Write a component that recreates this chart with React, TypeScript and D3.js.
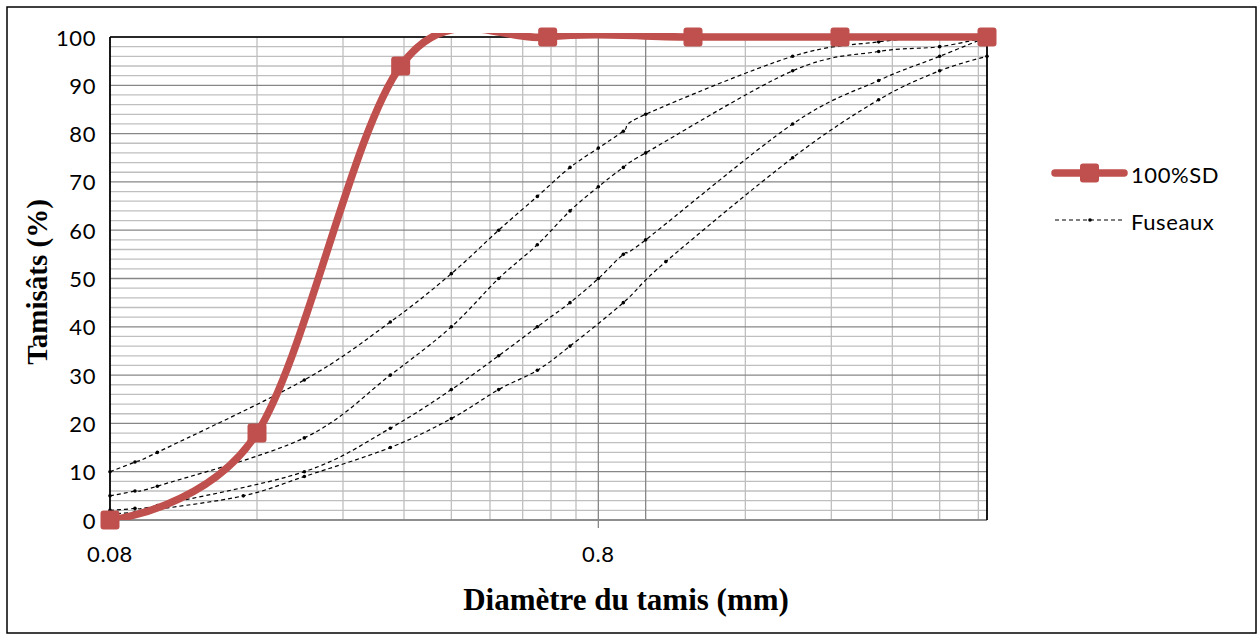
import { useMemo } from "react";
import * as d3 from "d3";

// sieve openings (mm) and passing percentages
const sdSieves = [0.08, 0.16, 0.315, 0.63, 1.25, 2.5, 5];
const sd100 = [0, 18, 94, 100, 100, 100, 100];

const fuseauSieves = [0.08, 0.09, 0.1, 0.2, 0.3, 0.4, 0.5, 0.6, 0.7, 0.8, 0.9, 1, 2, 3, 4, 5];
const fuseauA = [10, 12, 14, 29, 41, 51, 60, 67, 73, 77, 80.5, 84, 96, 99, 100, 100];
const fuseauB = [5, 6, 7, 17, 30, 40, 50, 57, 64, 69, 73, 76, 93, 97, 98, 100];
const fuseauC = [2, 2.4, 3, 10, 19, 27, 34, 40, 45, 50, 55, 58, 82, 91, 96, 100];
const fuseauDSieves = [0.08, 0.09, 0.1, 0.15, 0.2, 0.3, 0.4, 0.5, 0.6, 0.7, 0.9, 1.1, 2, 3, 4, 5];
const fuseauD = [1.2, 1.6, 2.2, 5, 9, 15, 21, 27, 31, 36, 45, 53.5, 75, 87, 93, 96];

const xLabelTicks = [0.08, 0.8];
const yTicks = [0, 10, 20, 30, 40, 50, 60, 70, 80, 90, 100];

const RED = "#C0504D";

export default function App() {
  const width = 1258;
  const height = 635;
  const plot = { left: 110, right: 987, top: 37, bottom: 520 };

  const x = d3.scaleLog().domain([0.08, 5]).range([plot.left, plot.right]);
  const y = d3.scaleLinear().domain([0, 100]).range([plot.bottom, plot.top]);

  const line = d3
    .line<[number, number]>()
    .x((d) => x(d[0]))
    .y((d) => y(d[1]))
    .curve(d3.curveCatmullRom.alpha(0));

  const fuseaux = useMemo(
    () => [
      { sieves: fuseauSieves, values: fuseauA },
      { sieves: fuseauSieves, values: fuseauB },
      { sieves: fuseauSieves, values: fuseauC },
      { sieves: fuseauDSieves, values: fuseauD },
    ],
    []
  );

  const minorX = [
    ...d3.range(2, 10).map((k) => 0.08 * k),
    ...d3.range(2, 7).map((k) => 0.8 * k),
  ].filter((v) => v < 5);
  const majorX = [0.8, 1];
  const minorY = d3.range(0, 101, 2).filter((v) => v % 10 !== 0);

  const sdPts: [number, number][] = sdSieves.map((s, i) => [s, sd100[i]]);
  const labelFont = "Lato, 'Open Sans', sans-serif";

  return (
    <svg
      width={width}
      height={height}
      style={{ position: "absolute", left: 0, top: 0, background: "#fff" }}
    >
      <defs>
        <clipPath id="plotClip">
          <rect
            x={plot.left}
            y={plot.top - 4}
            width={plot.right - plot.left}
            height={plot.bottom - plot.top + 4}
          />
        </clipPath>
      </defs>
      <rect x={7} y={7} width={1249} height={626} fill="#fff" stroke="#000" strokeWidth={1.5} />

      {/* grid */}
      {minorY.map((v) => (
        <line key={"hy" + v} x1={plot.left} x2={plot.right} y1={y(v)} y2={y(v)} stroke="#BFBFBF" strokeWidth={1.3} />
      ))}
      {minorX.map((v) => (
        <line key={"vx" + v} x1={x(v)} x2={x(v)} y1={plot.top} y2={plot.bottom} stroke="#BFBFBF" strokeWidth={1.3} />
      ))}
      {yTicks.map((v) => (
        <line key={"my" + v} x1={plot.left} x2={plot.right} y1={y(v)} y2={y(v)} stroke="#878787" strokeWidth={1.3} />
      ))}
      {majorX.map((v) => (
        <line key={"mx" + v} x1={x(v)} x2={x(v)} y1={plot.top} y2={plot.bottom} stroke="#878787" strokeWidth={1.3} />
      ))}

      {/* axes */}
      <line x1={plot.left} x2={plot.right} y1={plot.bottom} y2={plot.bottom} stroke="#878787" strokeWidth={1.5} />
      {xLabelTicks.map((v) => (
        <line key={"t" + v} x1={x(v)} x2={x(v)} y1={plot.bottom} y2={plot.bottom + 8} stroke="#878787" strokeWidth={1.3} />
      ))}
      <line x1={plot.left} x2={plot.right} y1={plot.top} y2={plot.top} stroke="#000" strokeWidth={1.5} />
      <line x1={plot.left} x2={plot.left} y1={plot.top} y2={plot.bottom} stroke="#000" strokeWidth={1.8} />
      <line x1={plot.right} x2={plot.right} y1={plot.top} y2={plot.bottom} stroke="#000" strokeWidth={1.8} />

      <g fontFamily={labelFont} fontSize={22} letterSpacing={0.6} fill="#000">
        {yTicks.map((v) => (
          <text key={"yl" + v} x={96} y={y(v)} textAnchor="end" dominantBaseline="central">
            {v}
          </text>
        ))}
        {xLabelTicks.map((v) => (
          <text key={"xl" + v} x={x(v)} y={562} textAnchor="middle">
            {v}
          </text>
        ))}
      </g>

      {/* fuseaux */}
      <g>
        {fuseaux.map((f, i) => {
          const pts: [number, number][] = f.sieves.map((s, j) => [s, f.values[j]]);
          return (
            <g key={"f" + i}>
              <path d={line(pts) ?? ""} fill="none" stroke="#000" strokeWidth={1.2} strokeDasharray="4 3" />
              {pts.map((p, j) => (
                <circle key={j} cx={x(p[0])} cy={y(p[1])} r={1.8} fill="#000" />
              ))}
            </g>
          );
        })}
      </g>

      {/* 100%SD */}
      <path
        d={line(sdPts) ?? ""}
        fill="none"
        stroke={RED}
        strokeWidth={7.5}
        strokeLinejoin="round"
        clipPath="url(#plotClip)"
      />
      {sdPts.map((p, i) => (
        <rect
          key={"m" + i}
          x={x(p[0]) - 9.5}
          y={y(p[1]) - 9.5}
          width={19}
          height={19}
          rx={3}
          fill={RED}
        />
      ))}

      {/* legend */}
      <line x1={1055} x2={1124} y1={173} y2={173} stroke={RED} strokeWidth={7.5} strokeLinecap="round" />
      <rect x={1080} y={163.5} width={19} height={19} rx={3} fill={RED} />
      <line x1={1055} x2={1124} y1={220} y2={220} stroke="#000" strokeWidth={1.2} strokeDasharray="4 3" />
      <circle cx={1090} cy={220} r={1.8} fill="#000" />
      <g fontFamily={labelFont} fontSize={22} letterSpacing={0.6} fill="#000">
        <text x={1131} y={174} dominantBaseline="central">100%SD</text>
        <text x={1131} y={221} dominantBaseline="central">Fuseaux</text>
      </g>

      {/* axis titles */}
      <text
        x={626}
        y={610}
        textAnchor="middle"
        fontFamily="'Liberation Serif', 'Times New Roman', serif"
        fontWeight="bold"
        fontSize={31}
      >
        Diamètre du tamis (mm)
      </text>
      <text
        transform="translate(47,282) rotate(-90)"
        textAnchor="middle"
        fontFamily="'Liberation Serif', 'Times New Roman', serif"
        fontWeight="bold"
        fontSize={29}
      >
        Tamisâts (%)
      </text>
    </svg>
  );
}
